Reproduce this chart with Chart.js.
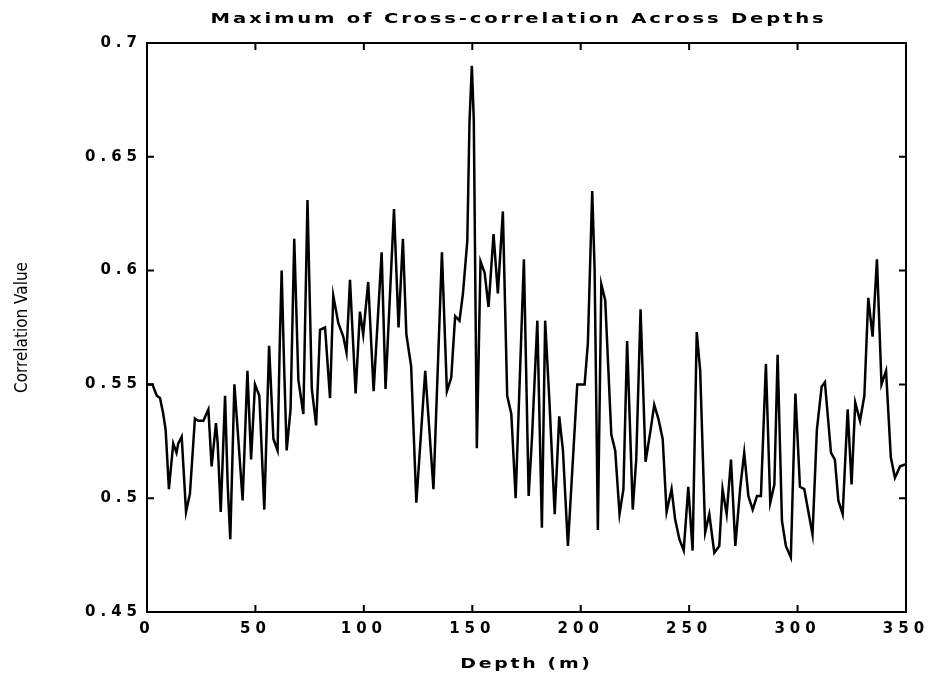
<!DOCTYPE html>
<html>
<head>
<meta charset="utf-8">
<script src="https://cdn.jsdelivr.net/npm/chart.js@4.4.1/dist/chart.umd.min.js"></script>
<style>
  html, body { margin: 0; padding: 0; background: #fff; }
  #chart { display: block; }
</style>
</head>
<body>
<canvas id="chart" width="933" height="682"></canvas>
<script>
// ── Données ────────────────────────────────────────────────────────
const TITLE   = "Maximum of Cross-correlation Across Depths";
const X_TITLE = "Depth (m)";
const Y_TITLE = "Correlation Value";

const depths = [
  0, 2.5, 4.5, 6, 7.5, 8.6, 10.1, 12.1, 13.6, 14.4, 16, 18, 19.8, 22.1, 23.6,
  26, 28.3, 29.8, 31.8, 32.6, 34, 36, 37.2, 38.4, 40.3, 42.1, 44.1, 46.3, 48,
  49.8, 51.8, 54.1, 56.3, 58.3, 60.2, 61.3, 62.1, 63.2, 64.4, 66.2, 67.9, 69.8,
  72.1, 74, 76, 78, 79.8, 82.1, 84.4, 85.9, 88.2, 90.5, 92, 93.6, 96.2, 98.2,
  99.7, 102, 104.5, 108.2, 110, 113.9, 116, 118, 119.6, 121.8, 124.2, 128.3,
  132.1, 136, 138.3, 140.3, 142.1, 144.1, 145.7, 147.7, 148.7, 149.8, 150.7,
  152.1, 153.8, 155.7, 157.5, 159.8, 161.8, 164.1, 166.1, 168, 170, 173.8, 176,
  177.5, 180, 182.1, 183.6, 185.6, 188, 190.1, 191.8, 194.1, 198.4, 199.5,
  201.8, 203.3, 205.3, 206.4, 207.9, 209.5, 211.3, 214.1, 215.9, 217.9, 219.7,
  221.4, 224, 225.6, 227.6, 229.9, 232.4, 233.9, 235.8, 237.8, 239.6, 241.9,
  243.5, 245.5, 247.5, 249.6, 251.6, 253.5, 255.1, 257.4, 259.3, 261.6, 263.9,
  265.4, 267.3, 269.3, 271.3, 273.6, 275.4, 277.3, 279.3, 281.3, 283.1, 285.4,
  287.4, 289.3, 290.8, 292.8, 294.6, 296.9, 299, 301.1, 303.1, 304.6, 306.9,
  308.9, 311.1, 312.6, 315.4, 317.2, 318.8, 320.8, 323.1, 324.9, 326.6, 328.8,
  330.8, 332.6, 334.6, 336.6, 338.7, 340.8, 343, 344.9, 347.3, 350
];

const correlation = [
  0.550, 0.550, 0.545, 0.544, 0.537, 0.530, 0.504, 0.524, 0.520, 0.524, 0.527,
  0.494, 0.502, 0.535, 0.534, 0.534, 0.539, 0.514, 0.533, 0.524, 0.494, 0.545,
  0.506, 0.482, 0.550, 0.526, 0.499, 0.556, 0.517, 0.550, 0.545, 0.495, 0.567,
  0.526, 0.521, 0.571, 0.600, 0.559, 0.521, 0.539, 0.614, 0.552, 0.537, 0.631,
  0.548, 0.532, 0.574, 0.575, 0.544, 0.589, 0.577, 0.571, 0.564, 0.596, 0.546,
  0.582, 0.572, 0.595, 0.547, 0.608, 0.548, 0.627, 0.575, 0.614, 0.572, 0.558,
  0.498, 0.556, 0.504, 0.608, 0.547, 0.553, 0.580, 0.578, 0.590, 0.613, 0.665,
  0.690, 0.666, 0.522, 0.604, 0.599, 0.584, 0.616, 0.590, 0.626, 0.545, 0.537,
  0.500, 0.605, 0.501, 0.526, 0.578, 0.487, 0.578, 0.542, 0.493, 0.536, 0.521,
  0.479, 0.550, 0.550, 0.550, 0.568, 0.635, 0.601, 0.486, 0.594, 0.587, 0.528,
  0.521, 0.493, 0.504, 0.569, 0.495, 0.517, 0.583, 0.516, 0.531, 0.541, 0.535,
  0.526, 0.494, 0.504, 0.491, 0.482, 0.477, 0.505, 0.477, 0.573, 0.556, 0.485,
  0.493, 0.476, 0.479, 0.504, 0.493, 0.517, 0.479, 0.505, 0.520, 0.501, 0.495,
  0.501, 0.501, 0.559, 0.498, 0.506, 0.563, 0.490, 0.479, 0.474, 0.546, 0.505,
  0.504, 0.496, 0.484, 0.530, 0.549, 0.551, 0.520, 0.517, 0.499, 0.493, 0.539,
  0.506, 0.542, 0.534, 0.545, 0.588, 0.571, 0.605, 0.550, 0.556, 0.518, 0.509,
  0.514, 0.515
];

const xTicks = [0, 50, 100, 150, 200, 250, 300, 350];
const yTicks = [0.45, 0.5, 0.55, 0.6, 0.65, 0.7];

// ── Polices ───────────────────────────────────────────────────────
const PLOT_FONT = "'DejaVu Sans', 'Liberation Sans', sans-serif";
const NARROW_FONT = "'Liberation Sans Narrow', 'DejaVu Sans Condensed', sans-serif";

// ── Cadre + graduations intérieures ───────────────────────────────
const frameTicks = {
  id: "frameTicks",
  beforeDraw(chart) {
    chart.ctx.letterSpacing = "5px";
  },
  afterDatasetsDraw(chart) {
    const { ctx, chartArea: a, scales } = chart;
    const len = 7;
    ctx.save();
    ctx.strokeStyle = "#000";
    ctx.lineWidth = 2;
    ctx.strokeRect(a.left, a.top, a.right - a.left, a.bottom - a.top);
    ctx.beginPath();
    for (const v of xTicks) {
      const px = scales.x.getPixelForValue(v);
      ctx.moveTo(px, a.bottom); ctx.lineTo(px, a.bottom - len);
      ctx.moveTo(px, a.top);    ctx.lineTo(px, a.top + len);
    }
    for (const v of yTicks) {
      const py = scales.y.getPixelForValue(v);
      ctx.moveTo(a.left, py);  ctx.lineTo(a.left + len, py);
      ctx.moveTo(a.right, py); ctx.lineTo(a.right - len, py);
    }
    ctx.stroke();
    ctx.restore();
  },
  afterDraw(chart) {
    const { ctx, chartArea: a } = chart;
    const cx = (a.left + a.right) / 2;
    const cy = (a.top + a.bottom) / 2;
    ctx.save();
    ctx.fillStyle = "#000";
    ctx.textAlign = "center";
    ctx.textBaseline = "middle";

    // titre + titre de l'axe x : police large façon traceur
    ctx.letterSpacing = "2px";
    ctx.font = "bold 14px " + PLOT_FONT;
    ctx.save();
    ctx.translate(cx - 8, 19);
    ctx.scale(1.4, 1);
    ctx.fillText(TITLE, 0, 0);
    ctx.restore();

    ctx.save();
    ctx.translate(cx, 664);
    ctx.scale(1.35, 1);
    ctx.fillText(X_TITLE, 0, 0);
    ctx.restore();

    // titre de l'axe y : police étroite
    ctx.letterSpacing = "0px";
    ctx.font = "17px " + NARROW_FONT;
    ctx.translate(23, cy);
    ctx.rotate(-Math.PI / 2);
    ctx.fillText(Y_TITLE, 0, 0);
    ctx.restore();
  }
};

// ── Graphique ─────────────────────────────────────────────────────
const points = depths.map((d, i) => ({ x: d, y: correlation[i] }));

new Chart(document.getElementById("chart"), {
  type: "line",
  data: {
    datasets: [{
      label: Y_TITLE,
      data: points,
      borderColor: "#000",
      borderWidth: 2.5,
      pointRadius: 0,
      tension: 0,
      fill: false,
    }],
  },
  options: {
    responsive: false,
    animation: false,
    layout: { padding: { top: 43, right: 27, bottom: 0, left: 0 } },
    plugins: {
      legend: { display: false },
      title: { display: false },
      tooltip: { enabled: false },
    },
    scales: {
      x: {
        type: "linear",
        min: 0, max: 350,
        afterBuildTicks: (s) => { s.ticks = xTicks.map((v) => ({ value: v })); },
        afterFit: (s) => { s.height = 70; },
        grid: { display: false, drawTicks: false },
        border: { display: false },
        ticks: {
          color: "#000",
          padding: 8,
          maxRotation: 0,
          autoSkip: false,
          font: { family: PLOT_FONT, size: 15, weight: "bold" },
          callback: (v) => String(v),
        },
      },
      y: {
        min: 0.45, max: 0.7,
        afterBuildTicks: (s) => { s.ticks = yTicks.map((v) => ({ value: v })); },
        afterFit: (s) => { s.width = 147; },
        grid: { display: false, drawTicks: false },
        border: { display: false },
        ticks: {
          color: "#000",
          padding: 5,
          autoSkip: false,
          font: { family: PLOT_FONT, size: 15, weight: "bold" },
          callback: (v) => String(parseFloat(Number(v).toFixed(2))),
        },
      },
    },
  },
  plugins: [frameTicks],
});
</script>
</body>
</html>
